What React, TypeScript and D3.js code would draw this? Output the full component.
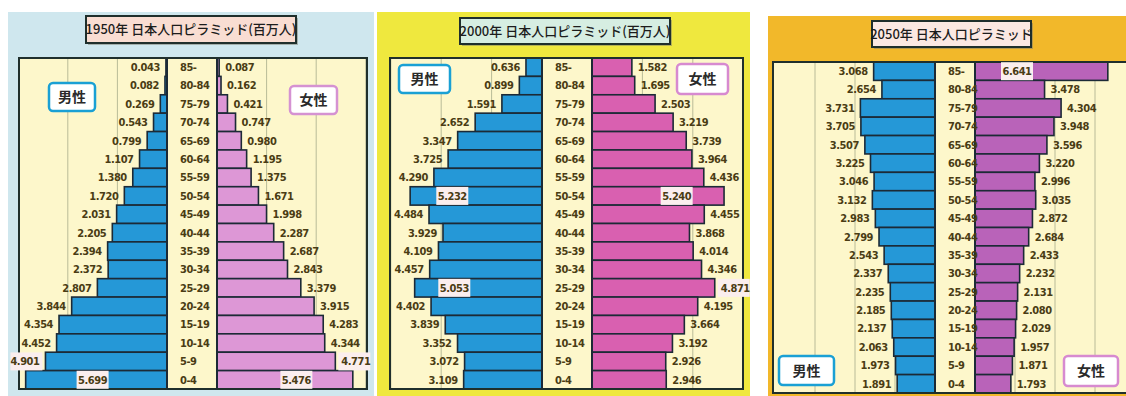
import React from "react";
import * as d3 from "d3";

const AGES = ["85-", "80-84", "75-79", "70-74", "65-69", "60-64", "55-59", "50-54", "45-49", "40-44", "35-39", "30-34", "25-29", "20-24", "15-19", "10-14", "5-9", "0-4"];

const MALE_1950 = [0.043, 0.082, 0.269, 0.543, 0.799, 1.107, 1.38, 1.72, 2.031, 2.205, 2.394, 2.372, 2.807, 3.844, 4.354, 4.452, 4.901, 5.699];
const FEMALE_1950 = [0.087, 0.162, 0.421, 0.747, 0.98, 1.195, 1.375, 1.671, 1.998, 2.287, 2.687, 2.843, 3.379, 3.915, 4.283, 4.344, 4.771, 5.476];
const MALE_2000 = [0.636, 0.899, 1.591, 2.652, 3.347, 3.725, 4.29, 5.232, 4.484, 3.929, 4.109, 4.457, 5.053, 4.402, 3.839, 3.352, 3.072, 3.109];
const FEMALE_2000 = [1.582, 1.695, 2.503, 3.219, 3.739, 3.964, 4.436, 5.24, 4.455, 3.868, 4.014, 4.346, 4.871, 4.195, 3.664, 3.192, 2.926, 2.946];
const MALE_2050 = [3.068, 2.654, 3.731, 3.705, 3.507, 3.225, 3.046, 3.132, 2.983, 2.799, 2.543, 2.337, 2.235, 2.185, 2.137, 2.063, 1.973, 1.891];
const FEMALE_2050 = [6.641, 3.478, 4.304, 3.948, 3.596, 3.22, 2.996, 3.035, 2.872, 2.684, 2.433, 2.232, 2.131, 2.08, 2.029, 1.957, 1.871, 1.793];

const TITLES = ["1950年 日本人口ピラミッド(百万人)", "2000年 日本人口ピラミッド(百万人)", "2050年 日本人口ピラミッド"];
const GRID_TICKS = [2, 4, 6];
const MALE_LABEL = "男性";
const FEMALE_LABEL = "女性";

type LabelSpec = { inside?: number; box?: boolean };

interface PanelCfg {
  title: string;
  male: number[];
  female: number[];
  bg: [number, number, number, number];
  bgColor: string;
  titleBox: [number, number, number, number];
  titleFill: string;
  plot: [number, number, number, number];
  maleAxis: number;
  femaleAxis: number;
  ppm: number;
  femaleColor: string;
  maleBox: [number, number, number, number];
  femaleBox: [number, number, number, number];
  femaleBoxColor: string;
  maleSpecial: Record<number, LabelSpec>;
  femaleSpecial: Record<number, LabelSpec>;
}

const PANELS: PanelCfg[] = [
  {
    title: TITLES[0], male: MALE_1950, female: FEMALE_1950,
    bg: [8, 12, 366, 384], bgColor: "#cfe7ee",
    titleBox: [86, 16, 210, 27], titleFill: "#f9ddd2",
    plot: [19, 58, 348, 331], maleAxis: 167, femaleAxis: 217, ppm: 24.8,
    femaleColor: "#dd97d6",
    maleBox: [49, 83, 46, 28], femaleBox: [290, 86, 47, 28], femaleBoxColor: "#d592d2",
    maleSpecial: { 16: { box: true }, 17: { inside: 3.0 } },
    femaleSpecial: { 16: { box: true }, 17: { inside: 3.2 } },
  },
  {
    title: TITLES[1], male: MALE_2000, female: FEMALE_2000,
    bg: [377, 12, 373, 384], bgColor: "#efe83e",
    titleBox: [460, 18, 210, 26], titleFill: "#d6eee2",
    plot: [390, 58, 353, 331], maleAxis: 542, femaleAxis: 592, ppm: 25.2,
    femaleColor: "#d960b0",
    maleBox: [399, 65, 51, 28], femaleBox: [677, 64, 51, 30], femaleBoxColor: "#d78ad0",
    maleSpecial: { 7: { inside: 3.56 }, 12: { inside: 3.48 } },
    femaleSpecial: { 7: { inside: 3.36 }, 12: { box: true } },
  },
  {
    title: TITLES[2], male: MALE_2050, female: FEMALE_2050,
    bg: [768, 16, 370, 380], bgColor: "#f2b82a",
    titleBox: [872, 21, 159, 26], titleFill: "#fbe8e2",
    plot: [773, 62, 370, 331], maleAxis: 935, femaleAxis: 975, ppm: 20,
    femaleColor: "#b963b9",
    maleBox: [779, 356, 55, 29], femaleBox: [1064, 356, 54, 30], femaleBoxColor: "#d78ad0",
    maleSpecial: {},
    femaleSpecial: { 0: { inside: 2.1 } },
  },
];

const TEXT_COLOR = "#4a3c14";
const NUM_FONT = "'DejaVu Sans Condensed', 'Liberation Sans Narrow', sans-serif";
const NUM_SIZE = 11;
const NUM_SPACING = -0.45;
const CJK_FONT = "'Noto Sans CJK JP', 'Noto Sans', sans-serif";
const BAR_STROKE = "#1c2a36";
const MALE_COLOR = "#2598d7";

function ValueLabel({ x, y, text, anchor, boxed }: { x: number; y: number; text: string; anchor: "start" | "middle" | "end"; boxed: boolean }) {
  const w = text.length * 5.2 + 6;
  const bx = anchor === "end" ? x - w + 3 : anchor === "start" ? x - 3 : x - w / 2;
  return (
    <g>
      {boxed && <rect x={bx} y={y - 9} width={w} height={18} fill="#fbeeee" />}
      <text x={x} y={y} dy="0.35em" textAnchor={anchor} fontFamily={NUM_FONT} fontWeight="bold" fontSize={NUM_SIZE} letterSpacing={NUM_SPACING} fill={TEXT_COLOR}>{text}</text>
    </g>
  );
}

function Panel({ cfg, clipId }: { cfg: PanelCfg; clipId: string }) {
  const [px, py, pw, ph] = cfg.plot;
  const y = d3.scaleBand<string>().domain(AGES).range([py, py + ph]).paddingInner(0);
  const maxV = 8;
  const xm = d3.scaleLinear().domain([0, maxV]).range([cfg.maleAxis, cfg.maleAxis - maxV * cfg.ppm]);
  const xf = d3.scaleLinear().domain([0, maxV]).range([cfg.femaleAxis, cfg.femaleAxis + maxV * cfg.ppm]);
  const bw = y.bandwidth();
  const fmt = d3.format(".3f");
  const [tx, ty, tw, th] = cfg.titleBox;
  const [bx, by, bw2, bh] = cfg.bg;
  return (
    <g>
      <rect x={bx} y={by} width={bw2} height={bh} fill={cfg.bgColor} />
      <defs>
        <clipPath id={clipId}>
          <rect x={px} y={py} width={pw} height={ph} />
        </clipPath>
      </defs>
      <rect x={px} y={py} width={pw} height={ph} fill="#fdf7cb" stroke="#1f2f2c" strokeWidth={2} />
      <g clipPath={`url(#${clipId})`}>
        {GRID_TICKS.map((t) => (
          <g key={t}>
            <line x1={xm(t)} x2={xm(t)} y1={py} y2={py + ph} stroke="#b9bb98" strokeWidth={1} />
            <line x1={xf(t)} x2={xf(t)} y1={py} y2={py + ph} stroke="#b9bb98" strokeWidth={1} />
          </g>
        ))}
        {AGES.map((a, i) => (
          <g key={a}>
            <rect x={xm(cfg.male[i])} y={y(a)!} width={xm(0) - xm(cfg.male[i])} height={bw} fill={MALE_COLOR} stroke={BAR_STROKE} strokeWidth={1.6} />
            <rect x={xf(0)} y={y(a)!} width={xf(cfg.female[i]) - xf(0)} height={bw} fill={cfg.femaleColor} stroke={BAR_STROKE} strokeWidth={1.6} />
          </g>
        ))}
        <line x1={cfg.maleAxis} x2={cfg.maleAxis} y1={py} y2={py + ph} stroke={BAR_STROKE} strokeWidth={2} />
        <line x1={cfg.femaleAxis} x2={cfg.femaleAxis} y1={py} y2={py + ph} stroke={BAR_STROKE} strokeWidth={2} />
      </g>
      <rect x={px} y={py} width={pw} height={ph} fill="none" stroke="#1f2f2c" strokeWidth={2} />
      {AGES.map((a, i) => {
        const cy = y(a)! + bw / 2;
        const ms = cfg.maleSpecial[i] || {};
        const fs = cfg.femaleSpecial[i] || {};
        return (
          <g key={a}>
            <text x={cfg.maleAxis + 13} y={cy} dy="0.35em" fontFamily={NUM_FONT} fontWeight="bold" fontSize={NUM_SIZE} letterSpacing={NUM_SPACING} fill={TEXT_COLOR}>{a}</text>
            {ms.inside !== undefined ? (
              <ValueLabel x={xm(ms.inside)} y={cy} text={fmt(cfg.male[i])} anchor="middle" boxed={true} />
            ) : (
              <ValueLabel x={xm(cfg.male[i]) - 6} y={cy} text={fmt(cfg.male[i])} anchor="end" boxed={!!ms.box} />
            )}
            {fs.inside !== undefined ? (
              <ValueLabel x={xf(fs.inside)} y={cy} text={fmt(cfg.female[i])} anchor="middle" boxed={true} />
            ) : (
              <ValueLabel x={xf(cfg.female[i]) + 6} y={cy} text={fmt(cfg.female[i])} anchor="start" boxed={!!fs.box} />
            )}
          </g>
        );
      })}
      <rect x={tx + 2} y={ty + 2} width={tw} height={th} fill="#7a7a6a" opacity={0.5} />
      <rect x={tx} y={ty} width={tw} height={th} fill={cfg.titleFill} stroke="#1f2f2c" strokeWidth={2} />
      <text x={tx + tw / 2} y={ty + th / 2} dy="0.36em" textAnchor="middle" fontFamily={CJK_FONT} fontWeight={500} fontSize={13} fill="#1c1c1c">{cfg.title}</text>
      {[
        { b: cfg.maleBox, c: "#1aa0d4", t: MALE_LABEL },
        { b: cfg.femaleBox, c: cfg.femaleBoxColor, t: FEMALE_LABEL },
      ].map((g) => (
        <g key={g.t}>
          <rect x={g.b[0]} y={g.b[1]} width={g.b[2]} height={g.b[3]} rx={4} fill="#ffffff" stroke={g.c} strokeWidth={2.5} />
          <text x={g.b[0] + g.b[2] / 2} y={g.b[1] + g.b[3] / 2} dy="0.36em" textAnchor="middle" fontFamily={CJK_FONT} fontWeight="bold" fontSize={14} fill="#2a2a2a">{g.t}</text>
        </g>
      ))}
    </g>
  );
}

export default function App() {
  return (
    <svg width={1126} height={396} style={{ position: "absolute", left: 0, top: 0, background: "#ffffff" }}>
      <rect x={0} y={0} width={1126} height={396} fill="#ffffff" />
      {PANELS.map((p, i) => (
        <Panel key={i} cfg={p} clipId={`clip${i}`} />
      ))}
    </svg>
  );
}
